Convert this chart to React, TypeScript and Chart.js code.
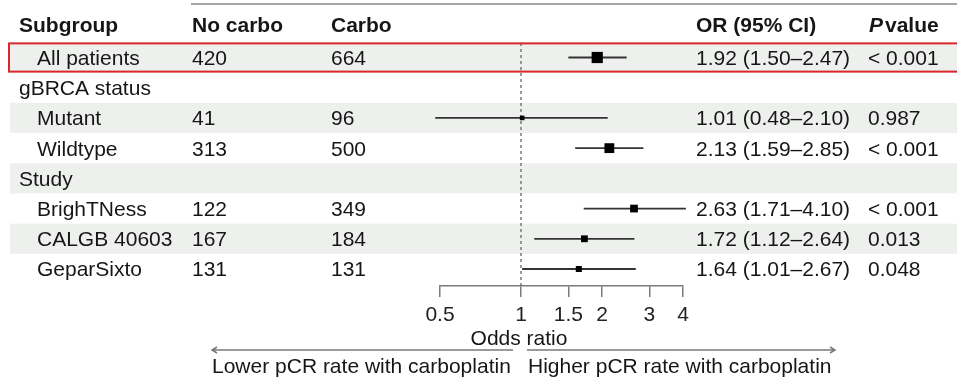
import React, { useEffect, useRef } from "react";
import { Chart, registerables } from "chart.js";

Chart.register(...registerables);

// ---------------- data ----------------
const subgroups = ["All patients", "gBRCA status", "Mutant", "Wildtype", "Study", "BrighTNess", "CALGB 40603", "GeparSixto"];
const isHeaderRow = [false, true, false, false, true, false, false, false];
const noCarbo = ["420", "", "41", "313", "", "122", "167", "131"];
const carbo = ["664", "", "96", "500", "", "349", "184", "131"];
const oddsRatio = [1.92, null, 1.01, 2.13, null, 2.63, 1.72, 1.64];
const ciLow = [1.5, null, 0.48, 1.59, null, 1.71, 1.12, 1.01];
const ciHigh = [2.47, null, 2.1, 2.85, null, 4.1, 2.64, 2.67];
const pValues = ["< 0.001", "", "0.987", "< 0.001", "", "< 0.001", "0.013", "0.048"];
const tickValues = [0.5, 1, 1.5, 2, 3, 4];
const columnHeaders = ["Subgroup", "No carbo", "Carbo", "OR (95% CI)"];
const axisTitle = "Odds ratio";
const lowerLabel = "Lower pCR rate with carboplatin";
const higherLabel = "Higher pCR rate with carboplatin";

const FONT = '"Liberation Sans", Arial, Helvetica, sans-serif';
const TEXT = "#161616";
const GREY_LINE = "#7a7a7a";

const fmt = (v: number) => v.toFixed(2);

export default function App() {
  const ref = useRef<HTMLCanvasElement | null>(null);

  useEffect(() => {
    const canvas = ref.current;
    if (!canvas) return;

    const rows = subgroups.map((_, i) => i);
    const ciDatasets = rows
      .filter((i) => oddsRatio[i] != null)
      .map((i) => ({
        data: [
          { x: ciLow[i] as number, y: i },
          { x: ciHigh[i] as number, y: i },
        ],
        showLine: true,
        borderColor: "#333333",
        borderWidth: 1.8,
        pointRadius: 0,
        clip: false as any,
        order: 2,
      }));

    const pointRows = rows.filter((i) => oddsRatio[i] != null);
    const totals = pointRows.map((i) => Number(noCarbo[i]) + Number(carbo[i]));

    const yMin = -0.48;
    const yMax = 7.563;

    const decor = {
      id: "forestDecor",
      beforeDatasetsDraw(chart: any) {
        const { ctx } = chart;
        const y = chart.scales.y;
        ctx.save();
        ctx.fillStyle = "#eef0ee";
        rows.forEach((i) => {
          if (i % 2 === 0) {
            const t = y.getPixelForValue(i - 0.5);
            const b = y.getPixelForValue(i + 0.5);
            ctx.fillRect(10, t, 957 - 10, b - t);
          }
        });
        ctx.restore();
      },
      afterDatasetsDraw(chart: any) {
        const { ctx } = chart;
        const y = chart.scales.y;
        ctx.save();
        // top rule
        ctx.strokeStyle = "#8a8a8a";
        ctx.lineWidth = 1.5;
        ctx.beginPath();
        ctx.moveTo(191, 4);
        ctx.lineTo(957, 4);
        ctx.stroke();

        // headers
        ctx.fillStyle = TEXT;
        ctx.textBaseline = "alphabetic";
        ctx.textAlign = "left";
        ctx.font = `bold 21px ${FONT}`;
        const hx = [19, 192, 331, 696];
        columnHeaders.forEach((h, k) => ctx.fillText(h, hx[k], 32));
        ctx.font = `italic bold 21px ${FONT}`;
        ctx.fillText("P", 869, 32);
        ctx.font = `bold 21px ${FONT}`;
        ctx.fillText("value", 885, 32);

        // rows
        ctx.font = `21px ${FONT}`;
        rows.forEach((i) => {
          const by = y.getPixelForValue(i) + 7.5;
          ctx.fillText(subgroups[i], isHeaderRow[i] ? 19 : 37, by);
          if (noCarbo[i]) ctx.fillText(noCarbo[i], 192, by);
          if (carbo[i]) ctx.fillText(carbo[i], 331, by);
          const or = oddsRatio[i];
          if (or != null) {
            ctx.fillText(`${fmt(or)} (${fmt(ciLow[i] as number)}\u2013${fmt(ciHigh[i] as number)})`, 696, by);
          }
          if (pValues[i]) ctx.fillText(pValues[i], 868, by);
        });

        // highlight box
        const t0 = y.getPixelForValue(-0.5);
        const b0 = y.getPixelForValue(0.5);
        ctx.strokeStyle = "#d9282c";
        ctx.lineWidth = 2;
        ctx.strokeRect(9, t0 + 1, 960, b0 - t0 - 2);

        // axis title
        ctx.fillStyle = TEXT;
        ctx.textAlign = "center";
        ctx.fillText(axisTitle, 519, 345);

        // arrows
        ctx.strokeStyle = GREY_LINE;
        ctx.lineWidth = 1.5;
        const ay = 350;
        ctx.beginPath();
        ctx.moveTo(513, ay);
        ctx.lineTo(212, ay);
        ctx.moveTo(217, ay - 3);
        ctx.lineTo(212, ay);
        ctx.lineTo(217, ay + 3);
        ctx.moveTo(527, ay);
        ctx.lineTo(835, ay);
        ctx.moveTo(830, ay - 3);
        ctx.lineTo(835, ay);
        ctx.lineTo(830, ay + 3);
        ctx.stroke();

        ctx.textAlign = "left";
        ctx.fillStyle = TEXT;
        ctx.fillText(lowerLabel, 212, 373);
        ctx.fillText(higherLabel, 528, 373);
        ctx.restore();
      },
    };

    const chart = new Chart(canvas, {
      type: "scatter",
      data: {
        datasets: [
          {
            data: pointRows.map((i) => ({ x: oddsRatio[i] as number, y: i })),
            pointStyle: "rect",
            backgroundColor: "#000",
            borderWidth: 0,
            pointRadius: (c: any) => (0.31 * Math.sqrt(totals[c.dataIndex]) + 1) / Math.SQRT2,
            clip: false as any,
            order: 0,
          } as any,
          ...ciDatasets,
          {
            data: [
              { x: 1, y: yMin },
              { x: 1, y: yMax },
            ],
            showLine: true,
            borderColor: "#666",
            borderWidth: 1.3,
            borderDash: [3, 3],
            pointRadius: 0,
            order: 3,
          } as any,
        ],
      },
      options: {
        responsive: false,
        animation: false,
        events: [],
        layout: { padding: { left: 440, right: 274, top: 43, bottom: 53 } },
        plugins: { legend: { display: false }, tooltip: { enabled: false } },
        scales: {
          x: {
            type: "logarithmic",
            position: "bottom",
            min: 0.5,
            max: 4,
            afterBuildTicks: (s: any) => {
              s.ticks = tickValues.map((v) => ({ value: v }));
            },
            afterFit: (s: any) => {
              s.height = 40;
            },
            ticks: {
              autoSkip: false,
              maxRotation: 0,
              padding: 6,
              color: "#222",
              font: { family: FONT, size: 21 },
              callback: (v: any) => String(v),
            },
            grid: { drawOnChartArea: false, drawTicks: true, tickLength: 11, color: GREY_LINE, lineWidth: 1.5 },
            border: { display: true, color: GREY_LINE, width: 1.5 },
          },
          y: {
            type: "linear",
            display: false,
            reverse: true,
            min: yMin,
            max: yMax,
          },
        },
      } as any,
      plugins: [decor],
    });

    return () => chart.destroy();
  }, []);

  return (
    <div style={{ position: "absolute", left: 0, top: 0, width: 957, height: 379, background: "#fff" }}>
      <canvas ref={ref} width={957} height={379} style={{ display: "block" }} />
    </div>
  );
}
